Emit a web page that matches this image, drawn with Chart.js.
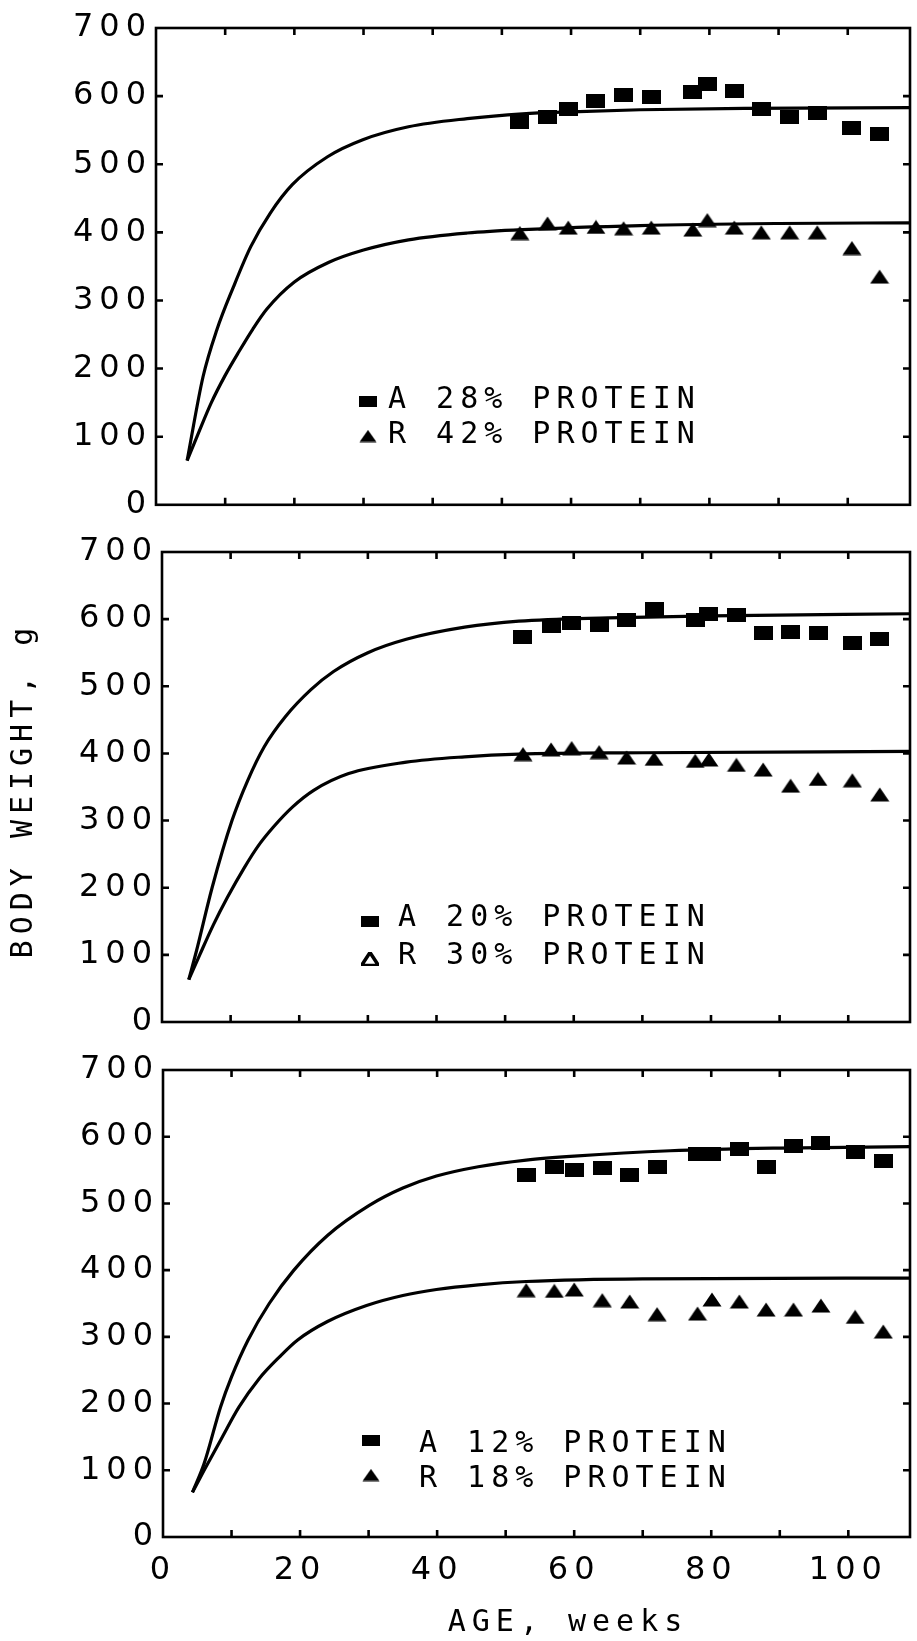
<!DOCTYPE html>
<html>
<head>
<meta charset="utf-8">
<title>Body weight vs age</title>
<script src="https://cdn.jsdelivr.net/npm/chart.js@4.4.0/dist/chart.umd.min.js"></script>
<style>
  html, body { margin: 0; padding: 0; background: #fff; }
  #wrap { position: relative; width: 917px; height: 1641px; overflow: hidden; background: #fff; }
  #wrap canvas { position: absolute; left: 0; }
</style>
</head>
<body>
<div id="wrap">
  <canvas id="p1" width="917" height="520" style="top:0px"></canvas>
  <canvas id="p2" width="917" height="520" style="top:520px"></canvas>
  <canvas id="p3" width="917" height="601" style="top:1040px"></canvas>
</div>
<script>
// ---- data ----
const yTickValues = [0, 100, 200, 300, 400, 500, 600, 700];
const xLabelValues = [0, 20, 40, 60, 80, 100];
const xMax = 109;

// panel 1: A 28% protein / R 42% protein
const legend1 = ['A 28% PROTEIN', 'R 42% PROTEIN'];
const weeks1 = [52.6, 56.6, 59.6, 63.6, 67.6, 71.6, 77.6, 79.7, 83.6, 87.5, 91.6, 95.6, 100.6, 104.6];
const groupA1 = [562, 570, 581, 593, 602, 599, 606, 618, 607, 581, 570, 575, 553, 544];
const groupR1 = [399, 413, 407, 408, 406, 407, 404, 418, 407, 400, 400, 400, 377, 335];
const fitWeeksA1 = [4.5, 6.8, 8.8, 11.2, 13.7, 16.5, 19.7, 24.8, 29.9, 36.5, 45, 53, 60, 70, 85, 109];
const fitA1 = [65, 188, 257, 320, 379, 428, 470, 511, 536, 555, 567, 574, 577, 580, 582, 583];
const fitWeeksR1 = [4.5, 6, 8, 10, 12, 14, 16, 20, 25, 30, 36.5, 45, 53, 70, 90, 109];
const fitR1 = [65, 102, 150, 190, 225, 258, 287, 327, 356, 374, 389, 399, 404, 410, 413, 414];

// panel 2: A 20% protein / R 30% protein
const legend2 = ['A 20% PROTEIN', 'R 30% PROTEIN'];
const weeks2 = [52.6, 56.7, 59.7, 63.7, 67.7, 71.7, 77.7, 79.7, 83.7, 87.6, 91.6, 95.6, 100.6, 104.6];
const groupA2 = [574, 590, 594, 591, 598, 615, 598, 607, 606, 580, 581, 580, 565, 570];
const groupR2 = [399, 406, 408, 402, 394, 392, 389, 391, 383, 376, 352, 362, 360, 339];
const fitWeeksA2 = [3.9, 5, 7.3, 10.2, 12.5, 14.9, 18, 21.7, 25, 30, 35.6, 44.1, 52, 65, 80, 109];
const fitA2 = [63, 105, 200, 300, 360, 410, 455, 495, 522, 550, 570, 588, 597, 602, 605, 608];
const fitWeeksR2 = [3.9, 5.5, 7.5, 9.5, 12, 14, 16.2, 19, 22.1, 27.2, 35.6, 44.1, 52, 70, 109];
const fitR2 = [63, 100, 145, 185, 230, 262, 290, 320, 345, 370, 387, 395, 399, 401, 403];

// panel 3: A 12% protein / R 18% protein
const legend3 = ['A 12% PROTEIN', 'R 18% PROTEIN'];
const weeks3 = [53, 57.1, 60, 64.1, 68.1, 72.1, 78, 80.1, 84.1, 88, 92, 96, 101, 105.1];
const groupA3 = [542, 554, 550, 553, 543, 555, 574, 574, 581, 554, 586, 590, 577, 563];
const groupR3 = [370, 369, 371, 355, 353, 334, 335, 356, 353, 341, 341, 347, 330, 308];
const fitWeeksA3 = [4.3, 6, 8.4, 10, 12.4, 15.5, 19.1, 24, 30.1, 35, 39.9, 46, 53, 60, 74, 90, 109];
const fitA3 = [67, 110, 195, 240, 295, 350, 400, 452, 497, 523, 541, 555, 565, 571, 579, 583, 585];
const fitWeeksR3 = [4.3, 6, 8.5, 11.1, 14, 17, 19.6, 24, 29.7, 35, 39.9, 46, 53, 70, 109];
const fitR3 = [67, 100, 147, 195, 237, 270, 295, 323, 347, 362, 371, 378, 383, 387, 388];

const yTitle = 'BODY WEIGHT, g';
const xTitle = 'AGE, weeks';

// ---- markers ----
function rectMarker(w, h) {
  const c = document.createElement('canvas');
  c.width = w; c.height = h;
  const g = c.getContext('2d');
  g.fillStyle = '#000';
  g.fillRect(0, 0, w, h);
  return c;
}
function triMarker(w, h, hollow) {
  const c = document.createElement('canvas');
  c.width = w; c.height = h;
  const g = c.getContext('2d');
  g.beginPath();
  g.moveTo(w / 2, 0.5);
  g.lineTo(w - 0.5, h - 0.5);
  g.lineTo(0.5, h - 0.5);
  g.closePath();
  if (hollow) {
    g.lineWidth = 3.5; g.strokeStyle = '#000'; g.lineJoin = 'round'; g.stroke();
  } else {
    g.fillStyle = '#000'; g.fill();
  }
  return c;
}
const squareImg = rectMarker(19, 14);
const triImg = triMarker(20, 15, false);
const squareLegendImg = rectMarker(18, 11);
const triLegendImg = triMarker(18, 13, false);
const triLegendHollow = triMarker(18, 14, true);

const toPts = (xs, ys) => xs.map((x, i) => ({ x: x, y: ys[i] }));

// ---- plugins ----
const spacingPlugin = {
  id: 'spacing',
  beforeDraw(chart) { chart.ctx.letterSpacing = '6px'; }
};

const framePlugin = {
  id: 'frame',
  afterDatasetsDraw(chart) {
    const { ctx, chartArea: a, scales } = chart;
    const len = 7;
    ctx.save();
    ctx.strokeStyle = '#000';
    ctx.lineWidth = 2.6;
    ctx.strokeRect(a.left, a.top, a.right - a.left, a.bottom - a.top);
    ctx.beginPath();
    scales.x.ticks.forEach(t => {
      const px = scales.x.getPixelForValue(t.value);
      if (px <= a.left + 2 || px >= a.right - 2) return;
      ctx.moveTo(px, a.bottom); ctx.lineTo(px, a.bottom - len);
      ctx.moveTo(px, a.top); ctx.lineTo(px, a.top + len);
    });
    scales.y.ticks.forEach(t => {
      const py = scales.y.getPixelForValue(t.value);
      if (py <= a.top + 2 || py >= a.bottom - 2) return;
      ctx.moveTo(a.left, py); ctx.lineTo(a.left + len, py);
      ctx.moveTo(a.right, py); ctx.lineTo(a.right - len, py);
    });
    ctx.stroke();
    ctx.restore();
  }
};

const textPlugin = {
  id: 'boxLegend',
  afterDraw(chart, args, opts) {
    const ctx = chart.ctx;
    ctx.save();
    ctx.letterSpacing = '6px';
    ctx.font = '30px "DejaVu Sans Mono"';
    ctx.fillStyle = '#000';
    ctx.textBaseline = 'middle';
    ctx.textAlign = 'left';
    chart.data.datasets.filter(d => d.legendMarker).forEach((d, i) => {
      const y = opts.y + i * opts.rowGap;
      const img = d.legendMarker;
      ctx.drawImage(img, opts.markerX - img.width / 2, y + (opts.markerDy || 0) - img.height / 2);
      ctx.fillText(d.label, opts.textX, y);
    });
    ctx.textAlign = 'center';
    if (opts.xTitle) {
      ctx.fillText(opts.xTitle.text, opts.xTitle.x, opts.xTitle.y);
    }
    if (opts.yTitle) {
      ctx.translate(opts.yTitle.x, opts.yTitle.y);
      ctx.rotate(-Math.PI / 2);
      ctx.fillText(opts.yTitle.text, 3, 0);
    }
    ctx.restore();
  }
};

// ---- panels ----
const panels = [
  { id: 'p1', left: 156, top: 28, bottom: 505, height: 520, labels: legend1,
    weeks: weeks1, a: groupA1, r: groupR1,
    fitA: toPts(fitWeeksA1, fitA1), fitR: toPts(fitWeeksR1, fitR1),
    legend: { markerX: 368, textX: 388, y: 400, rowGap: 35, markerDy: 1 } },
  { id: 'p2', left: 162, top: 32, bottom: 502, height: 520, labels: legend2,
    weeks: weeks2, a: groupA2, r: groupR2,
    fitA: toPts(fitWeeksA2, fitA2), fitR: toPts(fitWeeksR2, fitR2),
    hollowLegend: true,
    legend: { markerX: 370, textX: 398, y: 398, rowGap: 38, markerDy: 3,
              yTitle: { text: yTitle, x: 24, y: 273 } } },
  { id: 'p3', left: 163, top: 30, bottom: 497, height: 601, labels: legend3,
    weeks: weeks3, a: groupA3, r: groupR3,
    fitA: toPts(fitWeeksA3, fitA3), fitR: toPts(fitWeeksR3, fitR3),
    showX: true,
    legend: { markerX: 371, textX: 419, y: 404, rowGap: 35, markerDy: -4,
              xTitle: { text: xTitle, x: 568, y: 583 } } }
];

const tickFont = { family: 'DejaVu Sans', size: 32, lineHeight: 1.2 };

panels.forEach(p => {
  new Chart(document.getElementById(p.id), {
    type: 'scatter',
    data: {
      datasets: [
        { label: 'A fit', data: p.fitA, showLine: true, borderColor: '#000', borderWidth: 3.2,
          pointRadius: 0, cubicInterpolationMode: 'monotone', fill: false },
        { label: 'R fit', data: p.fitR, showLine: true, borderColor: '#000', borderWidth: 3.2,
          pointRadius: 0, cubicInterpolationMode: 'monotone', fill: false },
        { label: p.labels[0], data: toPts(p.weeks, p.a), pointStyle: squareImg, pointRadius: 6,
          legendMarker: squareLegendImg },
        { label: p.labels[1], data: toPts(p.weeks, p.r), pointStyle: triImg, pointRadius: 6,
          legendMarker: p.hollowLegend ? triLegendHollow : triLegendImg }
      ]
    },
    options: {
      responsive: false,
      animation: false,
      devicePixelRatio: 1,
      layout: { padding: { top: p.top, right: 2, bottom: 0, left: 0 } },
      plugins: {
        legend: { display: false },
        tooltip: { enabled: false },
        boxLegend: p.legend
      },
      scales: {
        x: {
          type: 'linear', min: 0, max: xMax,
          grid: { display: false }, border: { display: false },
          ticks: {
            display: !!p.showX, stepSize: 10, includeBounds: false,
            autoSkip: false, maxRotation: 0, padding: 6,
            color: '#000', font: tickFont,
            callback: v => xLabelValues.includes(v) ? String(v) : ''
          },
          afterBuildTicks: s => { s.ticks = s.ticks.filter(t => t.value % 10 === 0); },
          afterFit: s => { s.height = p.height - p.bottom; }
        },
        y: {
          min: 0, max: 700,
          grid: { display: false }, border: { display: false },
          ticks: { stepSize: 100, padding: -4, color: '#000', font: tickFont,
                   callback: v => yTickValues.includes(v) ? String(v) : '' },
          afterFit: s => { s.width = p.left; }
        }
      }
    },
    plugins: [spacingPlugin, framePlugin, textPlugin]
  });
});
</script>
</body>
</html>
